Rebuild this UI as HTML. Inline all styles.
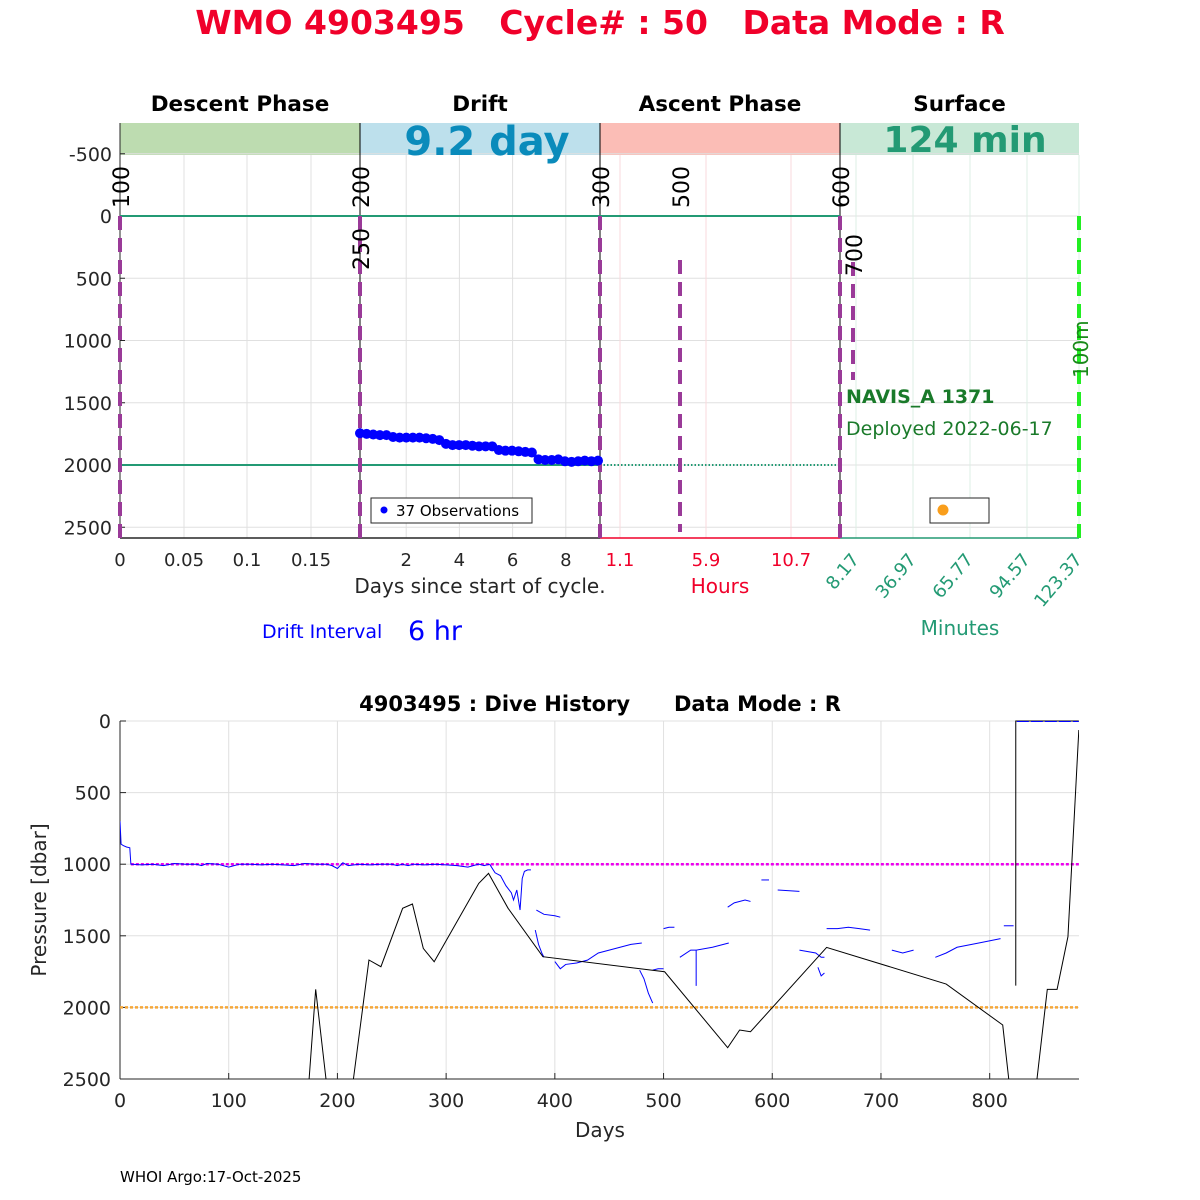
<!DOCTYPE html>
<html><head><meta charset="utf-8"><style>
html,body{margin:0;padding:0;background:#fff;}
svg{display:block;font-family:"DejaVu Sans","Liberation Sans",sans-serif;}
</style></head><body>
<svg id="chart" width="1200" height="1200" viewBox="0 0 1200 1200" xmlns="http://www.w3.org/2000/svg">
<text x="600" y="34" text-anchor="middle" font-size="33" font-weight="bold" fill="#f0002a" style="white-space:pre">WMO 4903495   Cycle# : 50   Data Mode : R</text>
<g id="topPanel"></g>
<g id="botPanel"></g>
<text x="120" y="1182" font-size="15" fill="#000">WHOI Argo:17-Oct-2025</text>
</svg>
<script>
// ---------- data ----------
const phaseNames = ["Descent Phase","Drift","Ascent Phase","Surface"];
const topYTicks = [-500,0,500,1000,1500,2000,2500];
const descentTicks = ["0","0.05","0.1","0.15"];
const driftTicks = [2,4,6,8];
const hourTicks = ["1.1","5.9","10.7"];
const minuteTicks = ["8.17","36.97","65.77","94.57","123.37"];
const driftPressures = [1745,1750,1755,1760,1760,1775,1780,1780,1780,1780,1785,1790,1800,1830,1840,1840,1840,1845,1850,1850,1850,1880,1885,1885,1890,1895,1900,1955,1960,1960,1955,1970,1975,1970,1965,1970,1965];
const botXTicks = [0,100,200,300,400,500,600,700,800];
const botYTicks = [0,500,1000,1500,2000,2500];
const blackDays = [173,180,191,200,213,229,240,260,269,279,289,330,339,357,389,501,559,570,580,650,760,812,819,830,842,853,862,872,882];
const blackPres = [2600,1874,2600,2600,2600,1669,1716,1308,1278,1588,1681,1134,1064,1308,1646,1751,2281,2158,2170,1581,1837,2123,2600,2600,2600,1874,1874,1506,63];
const blueSegDays = [
 [0,1,3,6,9,10,10,20,30,40,50,60,70,75,80,90,100,110,120,130,140,150,160,170,180,190,195,200,205,210,220,230,240,250,255,260,262,265,270,280,290,300,310,320,330,335,340],
 [340,345,350,355,360,362,365,368,370,372,375,378],
 [383,390,400,405],
 [382,385,388,390],
 [400,405,410,420,430,440,450,460,470,480],
 [478,482,486,490],
 [490,495,500],[500,505,510],
 [515,525,530,530,530,545,560],
 [559,565,575,580],[590,597],[605,625],
 [625,640,645,648],[642,645,648],
 [650,660,670,680,690],[710,720,730],
 [750,760,770,790,810],[813,822]
];
const blueSegPres = [
 [700,860,870,880,885,1000,1000,1005,1000,1010,995,1000,1000,1010,995,1000,1020,1000,1000,1005,1000,1005,1010,995,1000,1000,1010,1030,990,1010,1000,1005,1000,1000,1010,1000,1005,1010,1000,1005,1000,1005,1010,1020,1000,1010,1000],
 [1000,1060,1080,1150,1200,1250,1180,1320,1100,1050,1040,1040],
 [1320,1350,1360,1370],
 [1460,1560,1620,1650],
 [1680,1730,1700,1690,1670,1620,1600,1580,1560,1550],
 [1740,1800,1900,1970],
 [1740,1730,1730],[1450,1440,1440],
 [1650,1600,1600,1850,1600,1580,1550],
 [1300,1270,1250,1260],[1110,1110],[1180,1190],
 [1600,1620,1650,1650],[1720,1780,1760],
 [1450,1450,1440,1450,1460],[1600,1620,1600],
 [1650,1620,1580,1550,1520],[1430,1430]
];
// ---------- helpers ----------
const NS="http://www.w3.org/2000/svg";
function mk(parent,tag,attrs,text){const e=document.createElementNS(NS,tag);for(const k in attrs)e.setAttribute(k,attrs[k]);if(text!==undefined)e.textContent=text;parent.appendChild(e);return e;}
const topG=document.getElementById('topPanel'), botG=document.getElementById('botPanel');
// ---------- top panel ----------
const tyS=p=>216+p*0.1245;
const L=120,R=1079,T=123,B=538;
const secX=[120,360,600,840,1079];
const bandCol=["#bddcb0","#bde0ec","#fbbdb6","#c8e8d6"];
for(let i=0;i<4;i++){
  const r=mk(topG,'rect',{x:secX[i],y:123,width:secX[i+1]-secX[i],height:32,fill:bandCol[i]});
  
  
  const t=mk(topG,'text',{x:(secX[i]+secX[i+1])/2,y:111,'text-anchor':'middle','font-size':21.5,'font-weight':'bold'},phaseNames[i]);
  
  
}
topYTicks.forEach(v=>{
  const y=tyS(v);
  mk(topG,'line',{x1:L,x2:R,y1:y,y2:y,stroke:'#e0e0e0','stroke-width':1});
  const t=mk(topG,'text',{x:112,y:y+7,'text-anchor':'end','font-size':19,fill:'#262626'},v);
  
  
  mk(topG,'line',{x1:L,x2:L+5,y1:y,y2:y,stroke:'#262626'});
});
const dX=[120,184,247,311];
descentTicks.forEach((s,i)=>{mk(topG,'line',{x1:dX[i],x2:dX[i],y1:155,y2:B,stroke:'#e0e0e0'});
  const t=mk(topG,'text',{x:dX[i],y:566,'text-anchor':'middle','font-size':18,fill:'#262626'},s);
  
  });
const drX=d=>353+d*26.6;
driftTicks.forEach(d=>{const x=drX(d);mk(topG,'line',{x1:x,x2:x,y1:155,y2:B,stroke:'#e0e0e0'});
  const t=mk(topG,'text',{x:x,y:566,'text-anchor':'middle','font-size':18,fill:'#262626'},d);
  
  });
const hX=[620,706,791];
hourTicks.forEach((s,i)=>{mk(topG,'line',{x1:hX[i],x2:hX[i],y1:155,y2:B,stroke:'#fadadd'});
  const t=mk(topG,'text',{x:hX[i],y:566,'text-anchor':'middle','font-size':18,fill:'#f0002a'},s);
  
  });
const mX=[856,913,970,1027,1079];
minuteTicks.forEach((s,i)=>{mk(topG,'line',{x1:mX[i],x2:mX[i],y1:155,y2:B,stroke:'#dcefe5'});
  const t=mk(topG,'text',{x:mX[i]+4,y:560,'text-anchor':'end','font-size':18,fill:'#239a74',transform:`rotate(-50 ${mX[i]+4} 560)`},s);
  
  });
mk(topG,'line',{x1:L,x2:L,y1:T,y2:B,stroke:'#262626'});
mk(topG,'line',{x1:L,x2:600,y1:B,y2:B,stroke:'#262626','stroke-width':1.5});
mk(topG,'line',{x1:600,x2:840,y1:B,y2:B,stroke:'#f0002a','stroke-width':1.5});
mk(topG,'line',{x1:840,x2:R,y1:B,y2:B,stroke:'#239a74','stroke-width':1.5});
[360,600,840].forEach(x=>mk(topG,'line',{x1:x,x2:x,y1:T,y2:B,stroke:'#000','stroke-width':1}));
mk(topG,'line',{x1:L,x2:840,y1:tyS(0),y2:tyS(0),stroke:'#239a74','stroke-width':2});
mk(topG,'line',{x1:L,x2:600,y1:tyS(2000),y2:tyS(2000),stroke:'#239a74','stroke-width':2});
mk(topG,'line',{x1:600,x2:840,y1:tyS(2000),y2:tyS(2000),stroke:'#239a74','stroke-width':2,'stroke-dasharray':'1.5,2'});
[[120,216,538],[360,216,538],[600,216,538],[840,216,538],[680,260,532],[853,262,380]].forEach(a=>{
  const l=mk(topG,'line',{x1:a[0],x2:a[0],y1:a[1],y2:a[2],stroke:'#9a3a98','stroke-width':4,'stroke-dasharray':'14,8'});
  
  });
mk(topG,'line',{x1:1079,x2:1079,y1:216,y2:538,stroke:'#22ee22','stroke-width':4,'stroke-dasharray':'14,8'});
[[120,'100',208],[360,'200',208],[600,'300',208],[680,'500',208],[840,'600',208],[360,'250',270],[853,'700',276]].forEach(a=>{
  const t=mk(topG,'text',{x:a[0]+9,y:a[2],'font-size':22,fill:'#000',transform:`rotate(-90 ${a[0]+9} ${a[2]})`},a[1]);
  
  });
mk(topG,'text',{x:1088,y:378,'font-size':20,fill:'#1a8a1a',transform:'rotate(-90 1088 378)'},'100m');
mk(topG,'text',{x:487,y:155,'text-anchor':'middle','font-size':40,'font-weight':'bold',fill:'#0a8bbb'},'9.2 day');
mk(topG,'text',{x:965,y:152,'text-anchor':'middle','font-size':36,'font-weight':'bold',fill:'#239a74'},'124 min');
mk(topG,'text',{x:846,y:403,'font-size':19,'font-weight':'bold',fill:'#1a7a2a'},'NAVIS_A 1371');
mk(topG,'text',{x:846,y:435,'font-size':19,fill:'#1a7a2a'},'Deployed 2022-06-17');
driftPressures.forEach((p,i)=>{
  const x=360+i*(598-360)/(driftPressures.length-1);
  const c=mk(topG,'circle',{cx:x,cy:tyS(p),r:5,fill:'#0000ff'});
  
  });
const lg=mk(topG,'g',{});


mk(lg,'rect',{x:371,y:498,width:161,height:25,fill:'#fff',stroke:'#262626'});
mk(lg,'circle',{cx:384,cy:510,r:3.5,fill:'#0000ff'});
mk(lg,'text',{x:396,y:516,'font-size':15,fill:'#000'},'37 Observations');
mk(topG,'rect',{x:930,y:498,width:59,height:25,fill:'#fff',stroke:'#262626'});
mk(topG,'circle',{cx:943,cy:510,r:5.5,fill:'#f99e1c'});
mk(topG,'text',{x:480,y:593,'text-anchor':'middle','font-size':20,fill:'#262626'},'Days since start of cycle.');
mk(topG,'text',{x:720,y:593,'text-anchor':'middle','font-size':20,fill:'#f0002a'},'Hours');
mk(topG,'text',{x:960,y:635,'text-anchor':'middle','font-size':20,fill:'#239a74'},'Minutes');
mk(topG,'text',{x:262,y:638,'font-size':19,fill:'#0000ff'},'Drift Interval');
mk(topG,'text',{x:408,y:640,'font-size':27,fill:'#0000ff'},'6 hr');
// ---------- bottom panel ----------
const bx=d=>120+d*1.0871, by=p=>721+p*0.1432;
const BL=120,BR=1079,BT=721,BB=1079;
mk(botG,'text',{x:600,y:711,'text-anchor':'middle','font-size':21,'font-weight':'bold',style:'white-space:pre'},'4903495 : Dive History      Data Mode : R');
botXTicks.forEach(d=>{const x=bx(d);mk(botG,'line',{x1:x,x2:x,y1:BT,y2:BB,stroke:'#e0e0e0'});
  mk(botG,'line',{x1:x,x2:x,y1:BB,y2:BB-6,stroke:'#262626'});
  const t=mk(botG,'text',{x:x,y:1107,'text-anchor':'middle','font-size':19,fill:'#262626'},d);
  
  });
botYTicks.forEach(p=>{const y=by(p);mk(botG,'line',{x1:BL,x2:BR,y1:y,y2:y,stroke:'#e0e0e0'});
  mk(botG,'line',{x1:BL,x2:BL+6,y1:y,y2:y,stroke:'#262626'});
  const t=mk(botG,'text',{x:111,y:y+7,'text-anchor':'end','font-size':19,fill:'#262626'},p);
  
  });
mk(botG,'line',{x1:BL,x2:BL,y1:BT,y2:BB,stroke:'#262626'});
mk(botG,'line',{x1:BL,x2:BR,y1:BB,y2:BB,stroke:'#262626'});
const cp=mk(botG,'clipPath',{id:'bclip'});mk(cp,'rect',{x:BL,y:BT-2,width:BR-BL,height:BB-BT+2});
const g=mk(botG,'g',{'clip-path':'url(#bclip)'});
mk(g,'line',{x1:bx(10),x2:BR,y1:by(1000),y2:by(1000),stroke:'#ee00ee','stroke-width':2.5,'stroke-dasharray':'3,2'});
mk(g,'line',{x1:BL,x2:BR,y1:by(2000),y2:by(2000),stroke:'#f5a83a','stroke-width':2.5,'stroke-dasharray':'3,2'});
blueSegDays.forEach((ds,k)=>{
  const pts=ds.map((d,i)=>bx(d)+','+by(blueSegPres[k][i])).join(' ');
  const pl=mk(g,'polyline',{points:pts,fill:'none',stroke:'#0000ff','stroke-width':1});
  
  });
const bl=mk(g,'polyline',{points:blackDays.map((d,i)=>bx(d)+','+by(blackPres[i])).join(' '),fill:'none',stroke:'#000','stroke-width':1});


mk(g,'polyline',{points:`${bx(824)},${by(1848)} ${bx(824)},${by(0)} ${bx(882)},${by(0)}`,fill:'none',stroke:'#000','stroke-width':1});
mk(g,'line',{x1:bx(825),x2:bx(882),y1:by(0)+0.5,y2:by(0)+0.5,stroke:'#0000ff','stroke-width':1,'stroke-dasharray':'12,2'});
mk(botG,'text',{x:600,y:1137,'text-anchor':'middle','font-size':20,fill:'#262626'},'Days');
mk(botG,'text',{x:46,y:900,'text-anchor':'middle','font-size':20,fill:'#262626',transform:'rotate(-90 46 900)'},'Pressure [dbar]');
</script>
</body></html>
